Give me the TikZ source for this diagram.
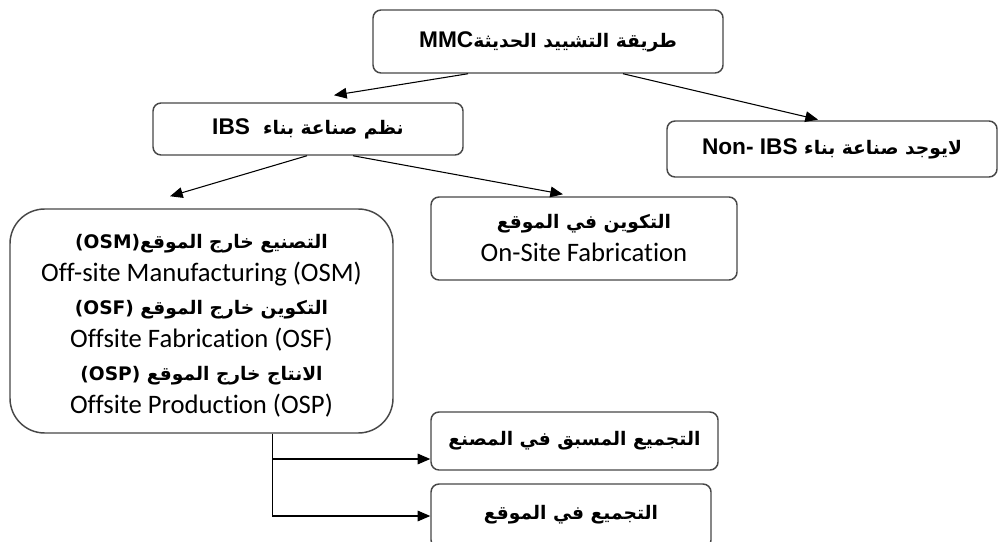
\documentclass[tikz,border=0pt]{standalone}
\usepackage{fontspec}
\setmainfont{Carlito}[Ligatures=NoCommon]
\newfontfamily\arabicfont[Script=Arabic]{DejaVu Sans}
\newfontfamily\latinbold{Liberation Sans}
\TeXXeTstate=1
\usetikzlibrary{arrows.meta}
% Arabic run, bold, right to left
\newcommand\artext[1]{{\arabicfont\bfseries\fontsize{14}{24.75}\selectfont\beginR #1\endR}}
% bold Latin tag inside an Arabic run
\newcommand\lattag[1]{\beginL{\latinbold\bfseries\fontsize{17}{24.75}\selectfont #1}\endL{}}
\begin{document}
\begin{tikzpicture}[x=0.75pt,y=-0.75pt,
  box/.style={draw=black!72, line width=1.1pt, rounded corners=6pt,
    align=center, inner sep=0pt, fill=white},
  arr/.style={-{Triangle[length=9.5pt,width=8pt]}, line width=0.8pt, black},
  font=\fontsize{20}{24.75}\selectfont]
\useasboundingbox (0,0) rectangle (999,542);

% top level
\node[box, minimum width=262.5pt, minimum height=47.25pt] (mmc) at (548,41.5)
  {\artext{طريقة التشييد الحديثة\lattag{MMC}}};

% second level
\node[box, minimum width=232.5pt, minimum height=39pt] (ibs) at (308,129)
  {\artext{نظم صناعة بناء \ \lattag{IBS}}};
\node[box, minimum width=247.5pt, minimum height=42pt] (nonibs) at (832,149)
  {\artext{لايوجد صناعة بناء \lattag{Non- IBS}}};

% third level: off-site box and its six lines of text
\node[box, rounded corners=26pt, minimum width=287.25pt, minimum height=168pt] (off) at (201.5,321) {};
\node[align=center, inner sep=0pt] (offtext) at (201.5,326)
  {\artext{التصنيع خارج الموقع\beginL(OSM)\endL{}}\\
   Off-site Manufacturing (OSM)\\
   \artext{التكوين خارج الموقع \beginL(OSF)\endL{}}\\
   Offsite Fabrication (OSF)\\
   \artext{الانتاج خارج الموقع \beginL(OSP)\endL{}}\\
   Offsite Production (OSP)};
\node[box, minimum width=229.5pt, minimum height=62.25pt] (onsite) at (584,238.5)
  {\artext{التكوين في الموقع}\\On-Site Fabrication};

% assembly options
\node[box, minimum width=215.25pt, minimum height=43.5pt] (pre) at (574.5,441)
  {\artext{التجميع المسبق في المصنع}};
\node[box, minimum width=210pt, minimum height=48pt] (site) at (571,516)
  {\raisebox{6pt}{\artext{التجميع في الموقع}}};

% connectors
\draw[arr] ([xshift=-60pt]mmc.south) -- ([xshift=19.5pt,yshift=5.25pt]ibs.north);
\draw[arr] ([xshift=56.25pt]mmc.south) -- ([xshift=-10.5pt,yshift=0.5pt]nonibs.north);
\draw[arr] ([xshift=-0.75pt]ibs.south) -- ([xshift=-23.6pt,yshift=9pt]off.north);
\draw[arr] ([xshift=33.75pt]ibs.south) -- ([xshift=-15.75pt,yshift=1.5pt]onsite.north);

\coordinate (split) at ([xshift=52.9pt]off.south);
\draw[arr] (split) |- ([yshift=-13.5pt]pre.west);
\draw[arr] (split) |- (site.west);
\end{tikzpicture}
\end{document}
